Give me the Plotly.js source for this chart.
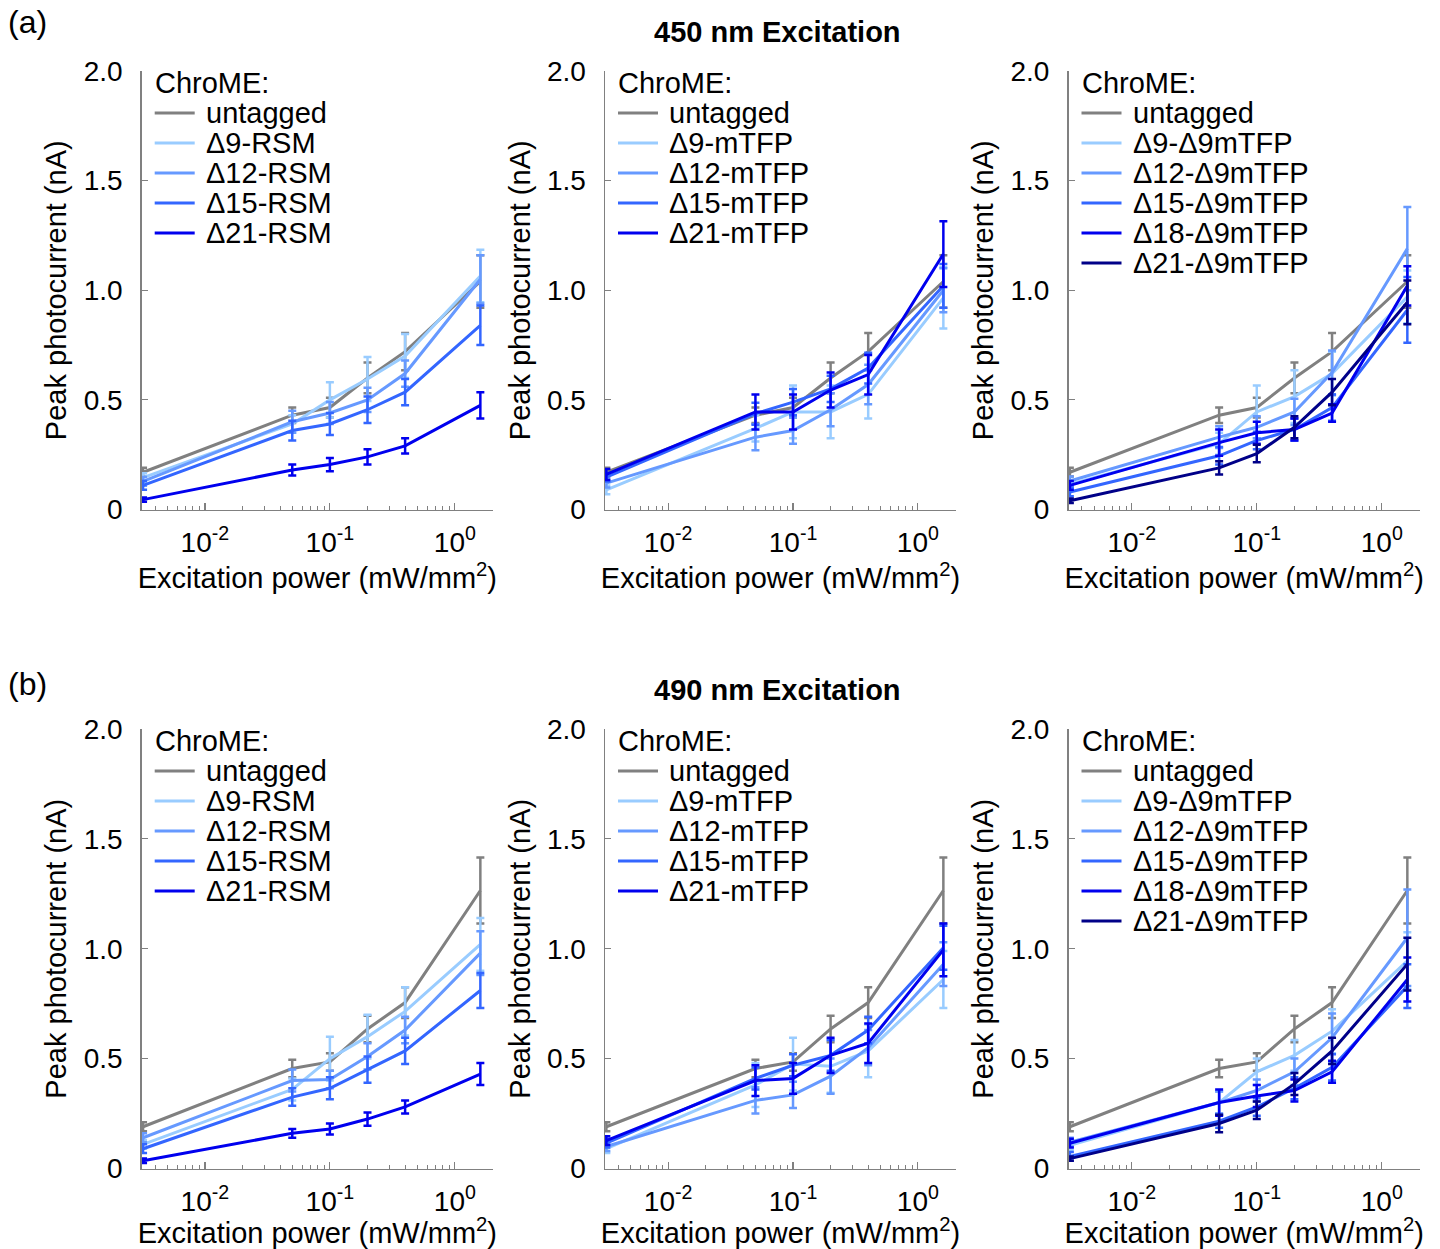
<!DOCTYPE html>
<html><head><meta charset="utf-8">
<script src="https://cdn.plot.ly/plotly-3.0.1.min.js"></script>
<style>html,body{margin:0;padding:0;background:#fff}#chart{width:1440px;height:1249px}</style>
</head><body><div id="chart"></div>
<script>
// ---------- shared axis data ----------
const power = [0.0032, 0.05, 0.1, 0.2, 0.4, 1.6];           // mW/mm^2
const xTickVals = [0.01, 0.1, 1];
const xTickText = ['10<sup>-2</sup>', '10<sup>-1</sup>', '10<sup>0</sup>'];
const xMinorVals = [0.004,0.005,0.006,0.007,0.008,0.009,0.02,0.03,0.04,0.05,0.06,0.07,0.08,0.09,0.2,0.3,0.4,0.5,0.6,0.7,0.8,0.9,2];
const yTickVals = [0, 0.5, 1, 1.5, 2];
const yTickText = ['0', '0.5', '1.0', '1.5', '2.0'];

// ---------- 450 nm ----------
const u450 = [0.17, 0.43, 0.465, 0.60, 0.72, 1.04];
const u450e = [0.02, 0.035, 0.045, 0.07, 0.085, 0.12];

const rsm450_d9 = [0.145, 0.39, 0.50, 0.595, 0.70, 1.065];
const rsm450_d9e = [0.02, 0.04, 0.08, 0.10, 0.10, 0.12];
const rsm450_d12 = [0.128, 0.40, 0.44, 0.50, 0.62, 1.05];
const rsm450_d12e = [0.02, 0.05, 0.05, 0.055, 0.06, 0.11];
const rsm450_d15 = [0.11, 0.36, 0.39, 0.455, 0.535, 0.84];
const rsm450_d15e = [0.02, 0.045, 0.05, 0.06, 0.06, 0.09];
const rsm450_d21 = [0.045, 0.18, 0.205, 0.24, 0.29, 0.475];
const rsm450_d21e = [0.01, 0.025, 0.03, 0.035, 0.035, 0.06];

const tfp450_d9 = [0.09, 0.37, 0.445, 0.445, 0.525, 0.965];
const tfp450_d9e = [0.02, 0.06, 0.12, 0.12, 0.11, 0.14];
const tfp450_d12 = [0.12, 0.33, 0.36, 0.455, 0.57, 1.0];
const tfp450_d12e = [0.02, 0.06, 0.06, 0.075, 0.09, 0.10];
const tfp450_d15 = [0.148, 0.437, 0.49, 0.55, 0.645, 1.02];
const tfp450_d15e = [0.02, 0.05, 0.06, 0.06, 0.07, 0.10];
const tfp450_d21 = [0.16, 0.445, 0.445, 0.545, 0.615, 1.165];
const tfp450_d21e = [0.025, 0.08, 0.08, 0.08, 0.09, 0.15];

const dtfp450_d9 = [0.115, 0.30, 0.445, 0.515, 0.62, 0.97];
const dtfp450_d9e = [0.02, 0.05, 0.12, 0.12, 0.10, 0.12];
const dtfp450_d12 = [0.13, 0.33, 0.375, 0.445, 0.625, 1.19];
const dtfp450_d12e = [0.02, 0.05, 0.05, 0.06, 0.10, 0.19];
const dtfp450_d15 = [0.08, 0.245, 0.315, 0.365, 0.465, 0.91];
const dtfp450_d15e = [0.02, 0.04, 0.04, 0.05, 0.06, 0.15];
const dtfp450_d18 = [0.11, 0.305, 0.35, 0.365, 0.44, 1.02];
const dtfp450_d18e = [0.02, 0.06, 0.05, 0.05, 0.04, 0.09];
const dtfp450_d21 = [0.04, 0.19, 0.255, 0.375, 0.535, 0.945];
const dtfp450_d21e = [0.01, 0.03, 0.04, 0.05, 0.06, 0.10];

// ---------- 490 nm ----------
const u490 = [0.19, 0.455, 0.485, 0.635, 0.755, 1.265];
const u490e = [0.02, 0.04, 0.04, 0.06, 0.07, 0.15];

const rsm490_d9 = [0.11, 0.36, 0.50, 0.60, 0.715, 1.02];
const rsm490_d9e = [0.02, 0.05, 0.10, 0.10, 0.11, 0.12];
const rsm490_d12 = [0.14, 0.40, 0.405, 0.51, 0.63, 0.98];
const rsm490_d12e = [0.02, 0.05, 0.04, 0.06, 0.06, 0.10];
const rsm490_d15 = [0.09, 0.325, 0.365, 0.45, 0.535, 0.81];
const rsm490_d15e = [0.02, 0.04, 0.05, 0.06, 0.06, 0.08];
const rsm490_d21 = [0.035, 0.16, 0.18, 0.225, 0.28, 0.43];
const rsm490_d21e = [0.01, 0.02, 0.025, 0.03, 0.03, 0.05];

const tfp490_d9 = [0.09, 0.38, 0.475, 0.465, 0.535, 0.86];
const tfp490_d9e = [0.02, 0.10, 0.12, 0.12, 0.12, 0.13];
const tfp490_d12 = [0.10, 0.31, 0.335, 0.42, 0.55, 0.93];
const tfp490_d12e = [0.02, 0.06, 0.06, 0.08, 0.08, 0.10];
const tfp490_d15 = [0.115, 0.41, 0.47, 0.515, 0.63, 1.005];
const tfp490_d15e = [0.02, 0.05, 0.05, 0.07, 0.06, 0.10];
const tfp490_d21 = [0.127, 0.40, 0.41, 0.515, 0.57, 0.995];
const tfp490_d21e = [0.02, 0.07, 0.07, 0.08, 0.09, 0.12];

const dtfp490_d9 = [0.105, 0.30, 0.44, 0.515, 0.625, 0.945];
const dtfp490_d9e = [0.02, 0.05, 0.06, 0.07, 0.10, 0.13];
const dtfp490_d12 = [0.12, 0.30, 0.355, 0.44, 0.595, 1.05];
const dtfp490_d12e = [0.02, 0.05, 0.05, 0.06, 0.11, 0.22];
const dtfp490_d15 = [0.055, 0.215, 0.28, 0.365, 0.46, 0.83];
const dtfp490_d15e = [0.02, 0.03, 0.04, 0.05, 0.06, 0.10];
const dtfp490_d18 = [0.115, 0.30, 0.33, 0.355, 0.44, 0.86];
const dtfp490_d18e = [0.02, 0.06, 0.05, 0.05, 0.05, 0.10];
const dtfp490_d21 = [0.045, 0.205, 0.265, 0.385, 0.535, 0.93];
const dtfp490_d21e = [0.01, 0.04, 0.04, 0.05, 0.06, 0.12];

// ---------- names & colours ----------
const legendTitle = 'ChroME:';
const namesRSM = ['untagged', 'Δ9-RSM', 'Δ12-RSM', 'Δ15-RSM', 'Δ21-RSM'];
const namesTFP = ['untagged', 'Δ9-mTFP', 'Δ12-mTFP', 'Δ15-mTFP', 'Δ21-mTFP'];
const namesDTFP = ['untagged', 'Δ9-Δ9mTFP', 'Δ12-Δ9mTFP', 'Δ15-Δ9mTFP', 'Δ18-Δ9mTFP', 'Δ21-Δ9mTFP'];
const colors5 = ['#808080', '#99ccff', '#6699ff', '#3366ff', '#0000ee'];
const colors6 = ['#808080', '#99ccff', '#6699ff', '#3366ff', '#0000ee', '#000088'];

const panelTitles = ['450 nm Excitation', '490 nm Excitation'];
const panelLetters = ['(a)', '(b)'];

// ---------- build ----------
const W = 1440, H = 1249;
const FONT = 'Arial, "Liberation Sans", Helvetica, sans-serif';
const colPx = [[141.7, 493], [605, 956], [1068.5, 1420]];
const rowPx = [[71, 509.5], [729, 1168.5]];

const panels = [
  {names: namesRSM, colors: colors5, ys: [u450, rsm450_d9, rsm450_d12, rsm450_d15, rsm450_d21], es: [u450e, rsm450_d9e, rsm450_d12e, rsm450_d15e, rsm450_d21e]},
  {names: namesTFP, colors: colors5, ys: [u450, tfp450_d9, tfp450_d12, tfp450_d15, tfp450_d21], es: [u450e, tfp450_d9e, tfp450_d12e, tfp450_d15e, tfp450_d21e]},
  {names: namesDTFP, colors: colors6, ys: [u450, dtfp450_d9, dtfp450_d12, dtfp450_d15, dtfp450_d18, dtfp450_d21], es: [u450e, dtfp450_d9e, dtfp450_d12e, dtfp450_d15e, dtfp450_d18e, dtfp450_d21e]},
  {names: namesRSM, colors: colors5, ys: [u490, rsm490_d9, rsm490_d12, rsm490_d15, rsm490_d21], es: [u490e, rsm490_d9e, rsm490_d12e, rsm490_d15e, rsm490_d21e]},
  {names: namesTFP, colors: colors5, ys: [u490, tfp490_d9, tfp490_d12, tfp490_d15, tfp490_d21], es: [u490e, tfp490_d9e, tfp490_d12e, tfp490_d15e, tfp490_d21e]},
  {names: namesDTFP, colors: colors6, ys: [u490, dtfp490_d9, dtfp490_d12, dtfp490_d15, dtfp490_d18, dtfp490_d21], es: [u490e, dtfp490_d9e, dtfp490_d12e, dtfp490_d15e, dtfp490_d18e, dtfp490_d21e]}
];

const traces = [];
const layout = {
  width: W, height: H,
  margin: {l: 0, r: 0, t: 0, b: 0, pad: 0},
  paper_bgcolor: '#ffffff', plot_bgcolor: '#ffffff',
  font: {family: FONT, size: 28, color: '#000'},
  showlegend: false,
  annotations: [],
  shapes: [],
  hovermode: false
};

// legend geometry (pixels relative to the panel's top-left corner)
const LEG_TITLE_X = 11, LEG_TITLE_Y = 12;
const LEG_LINE_X0 = 13, LEG_LINE_X1 = 53, LEG_TEXT_X = 62;
const LEG_ROW0 = 42, LEG_ROW_STEP = 30;

panels.forEach((p, i) => {
  const r = Math.floor(i / 3), c = i % 3;
  const n = i + 1;
  const sfx = (n === 1 ? '' : String(n));
  const xa = 'xaxis' + sfx, ya = 'yaxis' + sfx;
  const xr = 'x' + sfx, yr = 'y' + sfx;
  const dx = [colPx[c][0] / W, colPx[c][1] / W];
  const dy = [1 - rowPx[r][1] / H, 1 - rowPx[r][0] / H];
  const pw = colPx[c][1] - colPx[c][0], ph = rowPx[r][1] - rowPx[r][0];
  const fx = v => v / pw, fy = v => 1 - v / ph;

  p.ys.forEach((y, k) => {
    traces.push({
      type: 'scatter', mode: 'lines', x: power, y: y, name: p.names[k],
      xaxis: xr, yaxis: yr, cliponaxis: false, showlegend: false,
      line: {color: p.colors[k], width: 3},
      error_y: {type: 'data', array: p.es[k], visible: true, color: p.colors[k], thickness: 2.5, width: 4}
    });
    // legend entry: sample line + label
    const rowY = LEG_ROW0 + k * LEG_ROW_STEP;
    layout.shapes.push({
      type: 'line', xref: xr + ' domain', yref: yr + ' domain',
      x0: fx(LEG_LINE_X0), x1: fx(LEG_LINE_X1), y0: fy(rowY), y1: fy(rowY),
      line: {color: p.colors[k], width: 3}
    });
    layout.annotations.push({
      text: p.names[k], xref: xr + ' domain', yref: yr + ' domain',
      x: fx(LEG_TEXT_X), y: fy(rowY), xanchor: 'left', yanchor: 'middle',
      showarrow: false, font: {family: FONT, size: 29, color: '#000'}
    });
  });
  layout.annotations.push({
    text: legendTitle, xref: xr + ' domain', yref: yr + ' domain',
    x: fx(LEG_TITLE_X), y: fy(LEG_TITLE_Y), xanchor: 'left', yanchor: 'middle',
    showarrow: false, font: {family: FONT, size: 29, color: '#000'}
  });

  layout[xa] = {
    type: 'log', domain: dx, anchor: yr,
    range: [Math.log10(0.00312), Math.log10(2.02)],
    tickmode: 'array', tickvals: xTickVals, ticktext: xTickText,
    ticks: 'inside', ticklen: 7, tickwidth: 1.2, tickcolor: '#808080',
    minor: {tickmode: 'array', tickvals: xMinorVals, ticks: 'inside', ticklen: 4, tickwidth: 1, tickcolor: '#808080', showgrid: false},
    showline: true, linecolor: '#808080', linewidth: 1.5,
    showgrid: false, zeroline: false,
    tickfont: {family: FONT, size: 28, color: '#000'},
    ticklabelstandoff: 7,
    title: {text: 'Excitation power (mW/mm<sup>2</sup>)', font: {family: FONT, size: 29, color: '#000'}, standoff: 4},
    fixedrange: true
  };
  layout[ya] = {
    domain: dy, anchor: xr, range: [0, 2],
    tickmode: 'array', tickvals: yTickVals, ticktext: yTickText,
    ticks: 'inside', ticklen: 6, tickwidth: 1.2, tickcolor: '#808080',
    showline: true, linecolor: '#808080', linewidth: 1.5,
    showgrid: false, zeroline: false,
    tickfont: {family: FONT, size: 28, color: '#000'},
    ticklabelstandoff: 12,
    title: {text: 'Peak photocurrent (nA)', font: {family: FONT, size: 29, color: '#000'}, standoff: 8},
    fixedrange: true
  };
});

panelTitles.forEach((t, r) => {
  layout.annotations.push({
    text: '<b>' + t + '</b>', xref: 'paper', yref: 'paper',
    x: 777 / W, y: 1 - (r === 0 ? 32 : 690) / H, xanchor: 'center', yanchor: 'middle',
    showarrow: false, font: {family: FONT, size: 29, color: '#000'}
  });
  layout.annotations.push({
    text: panelLetters[r], xref: 'paper', yref: 'paper',
    x: 6 / W, y: 1 - (r === 0 ? 22 : 684) / H, xanchor: 'left', yanchor: 'middle',
    showarrow: false, font: {family: FONT, size: 32, color: '#000'}
  });
});

Plotly.newPlot('chart', traces, layout, {staticPlot: true, displayModeBar: false});
</script>
</body></html>
